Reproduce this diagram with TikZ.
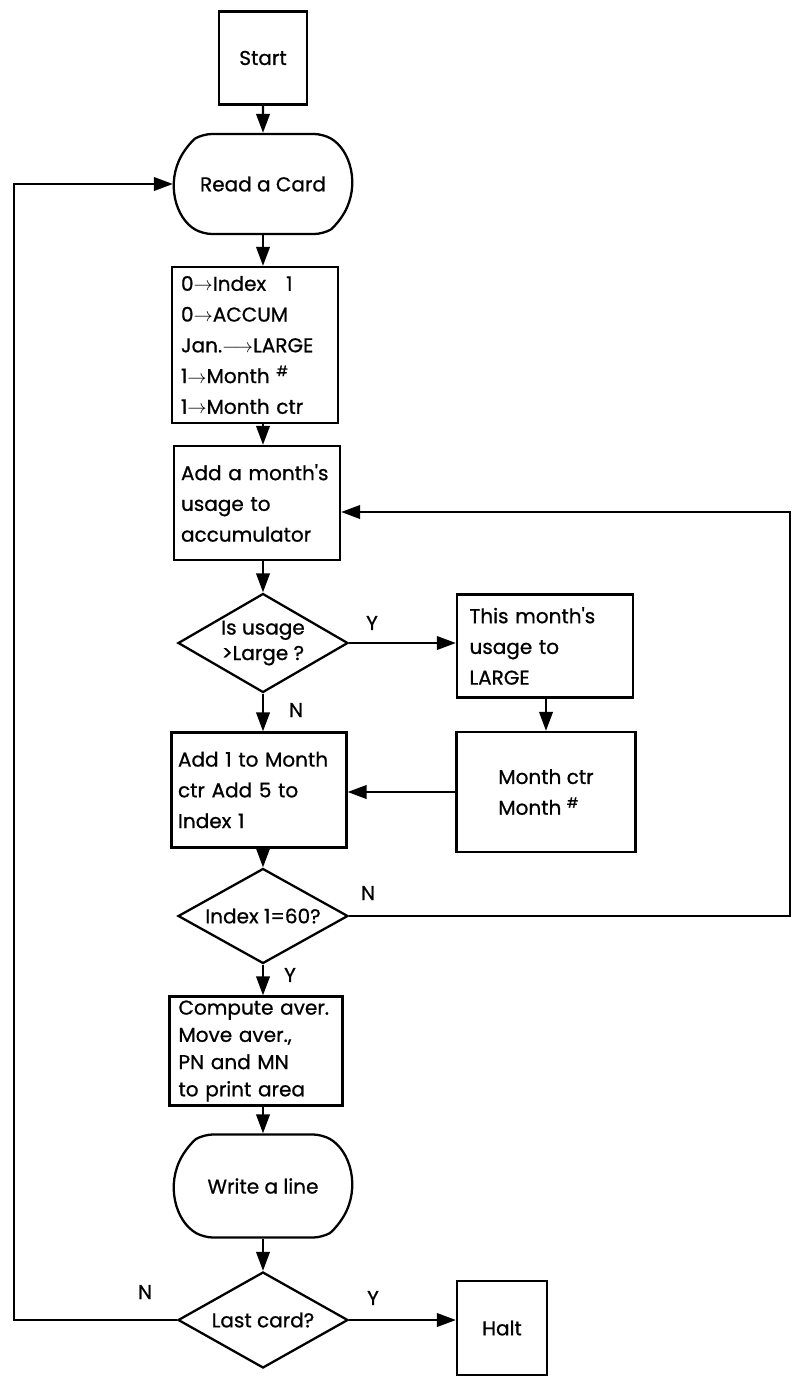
\documentclass[tikz,border=0pt]{standalone}
\usepackage{fontspec}
\setmainfont{Poppins}
\newfontfamily\chartface{Poppins}[FakeBold=0.8]
\usetikzlibrary{shapes.geometric,shapes.misc,arrows.meta}

\newcommand{\chartfont}{\chartface\fontsize{11.4}{17.5}\selectfont}

\tikzset{
  box/.style={draw, line width=1.3pt, rectangle, inner sep=0pt, font=\chartfont},
  io/.style={draw, line width=1.3pt, rounded rectangle, rounded rectangle arc length=120,
    rounded corners=5pt, inner sep=0pt, font=\chartfont},
  decision/.style={draw, line width=1.3pt, diamond, aspect=1.75, inner sep=0pt, align=center,
    font=\chartface\fontsize{11.4}{14.5}\selectfont},
  flow/.style={line width=1.3pt, -{Triangle[length=0.38cm,width=0.27cm]}},
  yn/.style={font=\chartfont, inner sep=0pt}
}

\begin{document}
\begin{tikzpicture}[x=0.02cm,y=-0.02cm]
  \useasboundingbox (0,0) rectangle (797,1380);

  % main column
  \node[box, minimum width=1.76cm, minimum height=1.86cm] (start) at (263,58) {Start};
  \node[io, minimum width=3.56cm, minimum height=2cm] (read) at (263,184) {Read a Card};
  \node[box, minimum width=3.32cm, minimum height=3.12cm, text width=2.96cm, align=left] (init) at (255,345)
    {0$\rightarrow$Index\quad 1\\0$\rightarrow$ACCUM\\Jan.$\longrightarrow$LARGE\\1$\rightarrow$Month \textsuperscript{\#}\\1$\rightarrow$Month ctr};
  \node[box, minimum width=3.32cm, minimum height=2.28cm, text width=3.04cm, align=left] (accum) at (257,503)
    {Add a month's\\usage to\\accumulator};
  \node[decision, minimum width=3.4cm, minimum height=1.98cm] (usage) at (263,643) {Is usage\\>Large ?};
  \node[box, minimum width=3.5cm, minimum height=2.3cm, text width=3.24cm, align=left] (addone) at (259,790)
    {Add 1 to Month\\ctr Add 5 to\\Index 1};
  \node[decision, minimum width=3.4cm, minimum height=1.9cm] (index) at (263,916) {Index 1=60?};
  \node[box, minimum width=3.46cm, minimum height=2.18cm, text width=3.1cm, align=left,
    font=\chartface\fontsize{11.4}{15.5}\selectfont] (compute) at (256,1051)
    {Compute aver.\\Move aver.,\\PN and MN\\to print area};
  \node[io, minimum width=3.56cm, minimum height=2.06cm] (write) at (263,1186) {Write a line};
  \node[decision, minimum width=3.4cm, minimum height=1.92cm] (last) at (263,1320) {Last card?};

  % side column
  \node[box, minimum width=3.52cm, minimum height=2.06cm, text width=3.02cm, align=left] (thismo) at (545,646)
    {This month's\\usage to\\LARGE};
  \node[box, minimum width=3.58cm, minimum height=2.4cm, align=left] (mctr) at (546,792)
    {Month ctr\\Month \textsuperscript{\#}};
  \node[box, minimum width=1.8cm, minimum height=1.88cm] (halt) at (502,1328) {Halt};

  % branch labels
  \node[yn] (usageY) at (372,623) {Y};
  \node[yn] (usageN) at (296,710) {N};
  \node[yn] (indexN) at (368,893) {N};
  \node[yn] (indexY) at (290,975) {Y};
  \node[yn] (lastN) at (145,1292) {N};
  \node[yn] (lastY) at (373,1298) {Y};

  % loop corners
  \coordinate (rtop) at (790,512);
  \coordinate (lbot) at (14,1320);

  % connectors
  \draw[flow] (start) -- (read);
  \draw[flow] (read.south) -- (read.south |- init.north);
  \draw[flow] (read.south |- init.south) -- (read.south |- accum.north);
  \draw[flow] (read.south |- accum.south) -- (usage.north);
  \draw[flow] (usage.east) -- (usage.east -| thismo.west);
  \draw[flow] (thismo.south -| mctr.north) -- (mctr.north);
  \draw[flow] (mctr.west) -- (mctr.west -| addone.east);
  \draw[flow] (usage.south) -- (usage.south |- addone.north);
  \draw[flow] (usage.south |- addone.south) -- (index.north);
  \draw[flow] (index.east) -| (rtop) -- (rtop -| accum.east);
  \draw[flow] (index.south) -- (index.south |- compute.north);
  \draw[flow] (index.south |- compute.south) -- (index.south |- write.north);
  \draw[flow] (write.south -| last.north) -- (last.north);
  \draw[flow] (last.east) -- (last.east -| halt.west);
  \draw[flow] (last.west) -- (lbot) |- (read.west);
\end{tikzpicture}
\end{document}
